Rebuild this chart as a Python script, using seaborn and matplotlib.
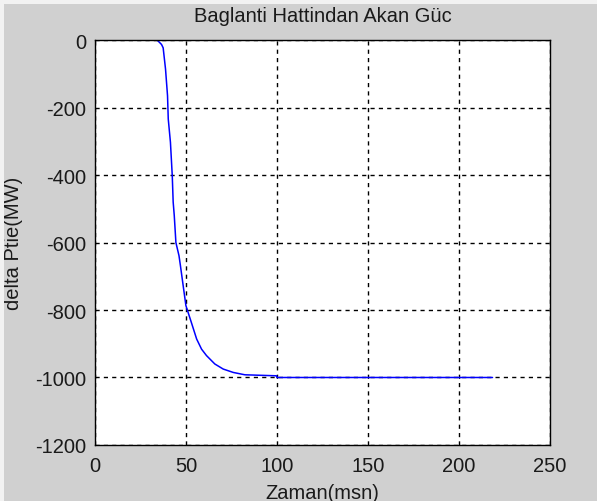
import matplotlib
matplotlib.use("Agg")
import numpy as np
import pandas as pd
import seaborn as sns
import matplotlib.pyplot as plt

# values (time in msn, power in MW)
zaman = [0, 34.2, 36.6, 37.5, 38.8, 39.9, 40.3, 41.5, 42.5, 43.0, 43.6, 44.5,
         46.2, 47.0, 48.5, 50.0, 53.0, 55.9, 58.6, 61.3, 65.9, 70.5, 76.0,
         82.4, 99.8, 100.0, 218.5]
ptie = [0, 0, -13, -23, -86, -165, -234, -303, -402, -480, -520, -600,
        -639, -669, -728, -787, -837, -886, -916, -935, -960, -975, -985,
        -992, -995, -1000, -1000]

x_ticks = [0, 50, 100, 150, 200, 250]
y_ticks = [-1200, -1000, -800, -600, -400, -200, 0]

df = pd.DataFrame({"Zaman": zaman, "Ptie": ptie})

sns.set_style("white")
plt.rcParams["font.family"] = ["Liberation Sans", "DejaVu Sans"]
plt.rcParams["axes.unicode_minus"] = False

FS = 14.5
TXT = "#1a1a1a"

fig = plt.figure(figsize=(5.97, 5.02), dpi=100, facecolor="#d0d0d0")
# light window edge along the top and left
fig.patches.append(plt.Rectangle((0, 1 - 5 / 502), 1, 5 / 502, transform=fig.transFigure,
                                 facecolor="#f2f2f2", edgecolor="none", zorder=0))
fig.patches.append(plt.Rectangle((0, 0), 4 / 597, 1, transform=fig.transFigure,
                                 facecolor="#f2f2f2", edgecolor="none", zorder=0))

ax = fig.add_axes([0.159, 0.1116, 0.762, 0.8066])
ax.set_facecolor("white")

sns.lineplot(data=df, x="Zaman", y="Ptie", color="#0000ff", linewidth=1.1,
             ax=ax, sort=False)

ax.set_xlim(0, 250)
ax.set_ylim(-1200, 0)
ax.set_xticks(x_ticks)
ax.set_yticks(y_ticks)
ax.grid(True, color="black", linestyle=(0, (3, 3)), linewidth=1.0)
for s in ax.spines.values():
    s.set_color("black")
    s.set_linewidth(1.0)
ax.tick_params(direction="in", length=4, width=1, colors="black",
               labelsize=FS, labelcolor=TXT, pad=8)
ax.tick_params(axis="y", pad=6)

ax.set_title("Baglanti Hattindan Akan Güc", fontsize=FS, color=TXT, pad=14)
ax.set_xlabel("Zaman(msn)", fontsize=FS, color=TXT, labelpad=6)
ax.set_ylabel("delta Ptie(MW)", fontsize=FS, color=TXT, labelpad=9)

plt.savefig("out.png", dpi=100, facecolor=fig.get_facecolor())
